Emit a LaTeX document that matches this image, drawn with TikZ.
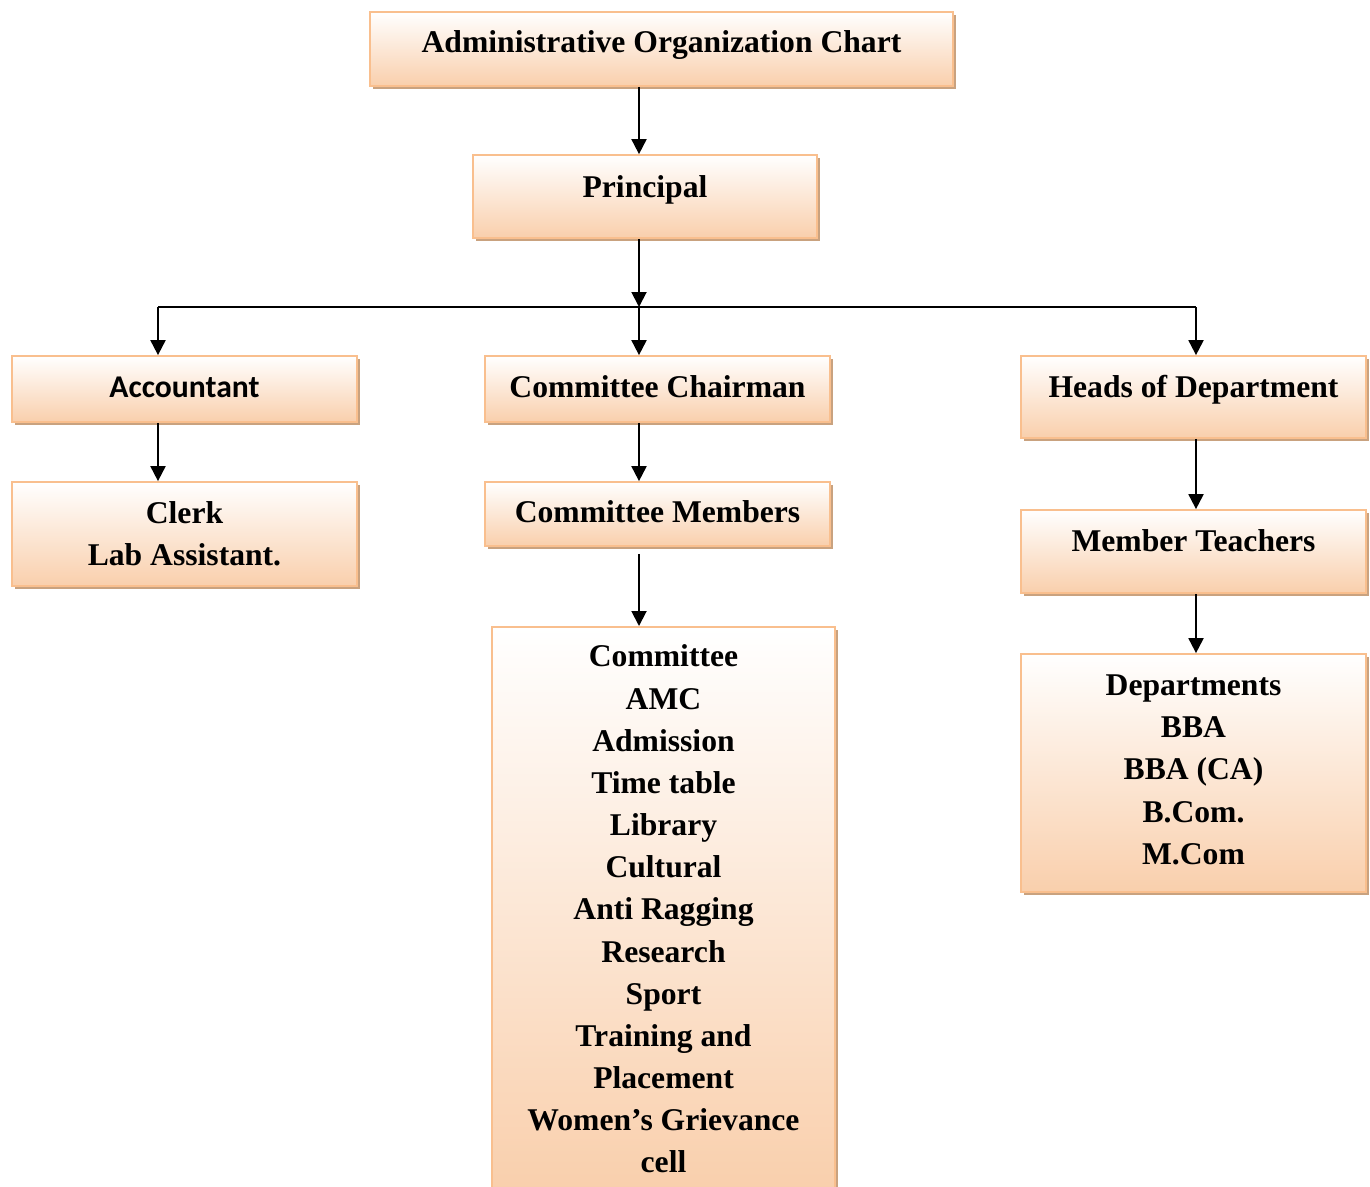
\documentclass[tikz,border=0pt]{standalone}
\usepackage{fontspec}
\setmainfont{Liberation Serif}
\newfontfamily\calibrifont{Carlito}
\usepackage{tikz}
\usetikzlibrary{positioning, arrows.meta, shadows}
\definecolor{ocPeach}{HTML}{F9CFAC}
\definecolor{ocLine}{HTML}{F9BF8E}
\definecolor{ocShadow}{HTML}{C9A27F}
\tikzset{
  orgbox/.style={
    rectangle, draw=ocLine, line width=1pt,
    top color=white, bottom color=ocPeach,
    drop shadow={shadow xshift=0.05cm, shadow yshift=-0.06cm, fill=ocShadow, opacity=1},
    minimum width=6.9cm, inner sep=0pt,
    align=center, text=black,
    font=\fontsize{18}{24}\selectfont\bfseries
  },
  oneline/.style={text height=12pt, text depth=#1},
  arrow/.style={
    -{Triangle[length=0.3cm, width=0.3cm]},
    black, line width=1.1pt
  },
  bus/.style={black, line width=1.1pt}
}

\begin{document}
\begin{tikzpicture}
  \clip (0,0) rectangle (27.4,-23.72);
  % head of the chart
  \node[orgbox, minimum width=11.66cm, minimum height=1.48cm, oneline=7.5pt] (title) at (13.23,-0.98) {Administrative Organization Chart};
  \node[orgbox, minimum width=6.88cm, minimum height=1.66cm, oneline=11.2pt] (prin) at (12.9,-3.93) {Principal};
  % three branches
  \node[orgbox, minimum height=1.32cm, oneline=2pt, font=\calibrifont\fontsize{18}{24}\selectfont\bfseries] (acc) at (3.69,-7.78) {Accountant};
  \node[orgbox, minimum height=1.32cm, oneline=2.8pt] (chair) at (13.15,-7.78) {Committee Chairman};
  \node[orgbox, minimum height=1.64cm, oneline=12pt] (hod) at (23.87,-7.94) {Heads of Department};
  \node[orgbox, minimum height=2.08cm] (clerk) at (3.69,-10.68) {Clerk\\Lab Assistant.};
  \node[orgbox, minimum height=1.28cm, oneline=2.3pt] (mem) at (13.15,-10.28) {Committee Members};
  \node[orgbox, minimum height=1.66cm, oneline=12.5pt] (mt) at (23.87,-11.03) {Member Teachers};
  \node[orgbox, minimum width=6.86cm, anchor=north, inner ysep=0.36cm] (comm) at (13.27,-12.52)
    {Committee\\AMC\\Admission\\Time table\\Library\\Cultural\\Anti Ragging\\Research\\Sport\\Training and\\Placement\\Women’s Grievance\\cell};
  \node[orgbox, minimum height=4.76cm, text depth=0.14cm] (dept) at (23.87,-15.46) {Departments\\BBA\\BBA (CA)\\B.Com.\\M.Com};
  % connectors
  \coordinate (colL) at (3.16,-6.14);
  \coordinate (colM) at (12.78,-6.14);
  \coordinate (colR) at (23.92,-6.14);
  \draw[arrow] (title.south -| colM) -- (prin.north -| colM);
  \draw[arrow] (prin.south -| colM) -- (colM);
  \draw[bus] (colL) -- (colR);
  \foreach \c/\n in {colL/acc, colM/chair, colR/hod}
    \draw[arrow] (\c) -- (\n.north -| \c);
  \draw[arrow] (acc.south -| colL) -- (clerk.north -| colL);
  \draw[arrow] (chair.south -| colM) -- (mem.north -| colM);
  \draw[arrow, shorten <=0.14cm] (mem.south -| colM) -- (comm.north -| colM);
  \draw[arrow] (hod.south -| colR) -- (mt.north -| colR);
  \draw[arrow] (mt.south -| colR) -- (dept.north -| colR);
\end{tikzpicture}
\end{document}
